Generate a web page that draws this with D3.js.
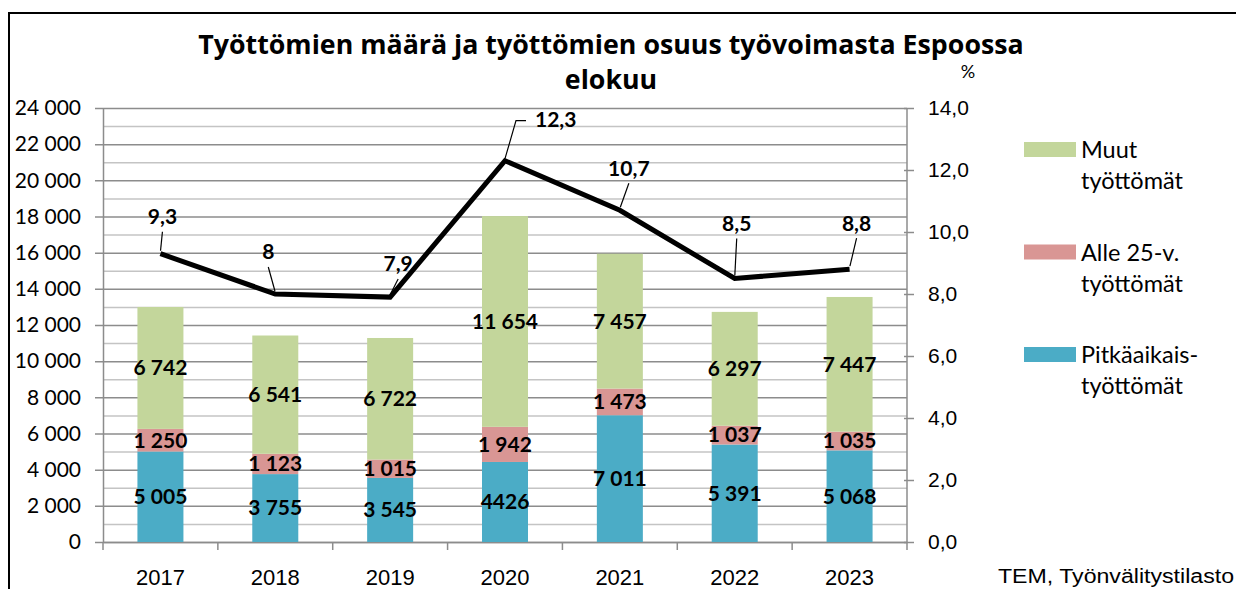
<!DOCTYPE html>
<html><head><meta charset="utf-8">
<script src="https://cdn.jsdelivr.net/npm/d3@7"></script>
<style>
html,body{margin:0;padding:0;background:#fff;}
svg{display:block;font-family:Lato,"Open Sans",sans-serif;}
</style></head>
<body>
<svg id="chart" width="1236" height="589"></svg>
<script>
// ---- data ----
const years = ["2017","2018","2019","2020","2021","2022","2023"];
const pitkaaikais = [5005, 3755, 3545, 4426, 7011, 5391, 5068];
const alle25 = [1250, 1123, 1015, 1942, 1473, 1037, 1035];
const muut = [6742, 6541, 6722, 11654, 7457, 6297, 7447];
const pitkaLabels = ["5 005","3 755","3 545","4426","7 011","5 391","5 068"];
const alleLabels = ["1 250","1 123","1 015","1 942","1 473","1 037","1 035"];
const muutLabels = ["6 742","6 541","6 722","11 654","7 457","6 297","7 447"];
const osuus = [9.3, 8, 7.9, 12.3, 10.7, 8.5, 8.8];
const osuusLabels = ["9,3","8","7,9","12,3","10,7","8,5","8,8"];
const leftTicks = [0,2000,4000,6000,8000,10000,12000,14000,16000,18000,20000,22000,24000];
const rightTicks = [0,2,4,6,8,10,12,14];
const seriesNames = ["Muut\ntyöttömät","Alle 25-v.\ntyöttömät","Pitkäaikais-\ntyöttömät"];
const colors = {pitka:"#4bacc6", alle:"#d99694", muut:"#c3d69b"};

// label layout offsets (dx, dy of text center from point; leader path)
const lineLabelPos = [
  {dx:2, dy:-37}, {dx:-7, dy:-42}, {dx:8, dy:-33}, {dx:51, dy:-41, elbow:true},
  {dx:9, dy:-42}, {dx:2, dy:-55}, {dx:7, dy:-46}
];

const svg = d3.select("#chart");
const L = 103, R = 907, T = 108, B = 542;

const xc = d3.scaleBand().domain(years).range([L, R]);
const y = d3.scaleLinear().domain([0, 24000]).range([B, T]);
const y2 = d3.scaleLinear().domain([0, 14]).range([B, T]);

// frame
svg.append("path").attr("d", `M9,${589} V13 H1236`).attr("fill","none").attr("stroke","#000").attr("stroke-width",2);

// title (fit to reference width)
function fitText(sel, target) {
  const len = sel.node().getComputedTextLength();
  const fs = parseFloat(sel.attr("font-size"));
  sel.attr("font-size", fs * target / len);
  return fs * target / len;
}
const t1 = svg.append("text").attr("x", 611).attr("y", 54).attr("text-anchor","middle")
  .attr("font-size", 25).attr("font-weight","bold").attr("font-family","Open Sans").attr("fill","#000")
  .text("Työttömien määrä ja työttömien osuus työvoimasta Espoossa");
const tfs = fitText(t1, 826);
svg.append("text").attr("x", 611).attr("y", 89).attr("text-anchor","middle")
  .attr("font-size", tfs).attr("font-weight","bold").attr("font-family","Open Sans").attr("fill","#000")
  .text("elokuu");

// gridlines minor
const minor = d3.range(1000, 24001, 2000);
svg.append("g").selectAll("line").data(minor).join("line")
  .attr("x1", L).attr("x2", R).attr("y1", d=>y(d)+0.5).attr("y2", d=>y(d)+0.5)
  .attr("stroke","#c4c4c4").attr("stroke-width",1.5);
svg.append("g").selectAll("line").data(leftTicks).join("line")
  .attr("x1", L-8).attr("x2", R).attr("y1", d=>y(d)+0.5).attr("y2", d=>y(d)+0.5)
  .attr("stroke","#8c8c8c").attr("stroke-width",1.5);

// left axis
const yAxis = d3.axisLeft(y).tickValues(leftTicks).tickSize(0).tickPadding(22)
  .tickFormat(d => d3.format(",")(d).replace(/,/g, " "));
const gy = svg.append("g").attr("transform", `translate(${L},0)`).call(yAxis);
gy.select(".domain").attr("stroke","#8c8c8c").attr("stroke-width",1.5);
gy.selectAll("text").attr("font-size", 21).attr("fill","#000").attr("font-family","Lato");

// right axis
const y2Axis = d3.axisRight(y2).tickValues(rightTicks).tickSize(7).tickPadding(14)
  .tickFormat(d => d3.format(".1f")(d).replace(".", ","));
const gy2 = svg.append("g").attr("transform", `translate(${R},0)`).call(y2Axis);
gy2.select(".domain").attr("stroke","#8c8c8c").attr("stroke-width",1.5).attr("d", `M0,${T}V${B}`);
gy2.selectAll(".tick line").attr("stroke","#8c8c8c").attr("stroke-width",1.5).attr("x1",-3);
gy2.selectAll("text").attr("font-size", 21).attr("fill","#000");
svg.append("text").attr("x", 968).attr("y", 78).attr("text-anchor","middle").attr("font-size",18).text("%");

// bottom axis
const xAxis = d3.axisBottom(xc).tickSize(0).tickPadding(27);
const gx = svg.append("g").attr("transform", `translate(0,${B})`).call(xAxis);
gx.select(".domain").attr("stroke","#8c8c8c").attr("stroke-width",1.5);
gx.selectAll("text").attr("font-size", 22).attr("fill","#000");
const bounds = years.map(d => xc(d)).concat([R]);
svg.append("g").selectAll("line").data(bounds).join("line")
  .attr("x1", d=>d).attr("x2", d=>d).attr("y1", B).attr("y2", B+8)
  .attr("stroke","#8c8c8c").attr("stroke-width",1.5);

// stacked bars
const rows = years.map((yr,i) => ({year: yr, pitka: pitkaaikais[i], alle: alle25[i], muut: muut[i]}));
const stack = d3.stack().keys(["pitka","alle","muut"])(rows);
const labelsByKey = {pitka: pitkaLabels, alle: alleLabels, muut: muutLabels};
const bw = 46;
stack.forEach(layer => {
  svg.append("g").selectAll("rect").data(layer).join("rect")
    .attr("x", d => xc(d.data.year) + xc.bandwidth()/2 - bw/2)
    .attr("width", bw)
    .attr("y", d => y(d[1]))
    .attr("height", d => y(d[0]) - y(d[1]))
    .attr("fill", colors[layer.key]);
});
stack.forEach(layer => {
  svg.append("g").selectAll("text").data(layer).join("text")
    .attr("x", d => xc(d.data.year) + xc.bandwidth()/2)
    .attr("y", d => (y(d[0]) + y(d[1]))/2)
    .attr("dy", "0.35em")
    .attr("text-anchor","middle").attr("font-size", 21).attr("font-weight","bold").attr("fill","#000")
    .text((d,i) => labelsByKey[layer.key][i]);
});

// line
const cx = d => xc(d) + xc.bandwidth()/2;
const line = d3.line().x((d,i) => cx(years[i])).y(d => y2(d));
svg.append("path").datum(osuus).attr("d", line).attr("fill","none")
  .attr("stroke","#000").attr("stroke-width",5).attr("stroke-linejoin","miter");

// line labels + leaders
osuus.forEach((v,i) => {
  const px = cx(years[i]), py = y2(v);
  const o = lineLabelPos[i];
  const tx = px + o.dx, ty = py + o.dy;
  let path;
  if (o.elbow) {
    path = `M${px},${py-2} L${px+11},${ty+1} H${px+21}`;
  } else {
    path = `M${px + (tx-px)*0.05},${py-3} L${tx},${ty+15}`;
  }
  svg.append("path").attr("d", path).attr("fill","none").attr("stroke","#000").attr("stroke-width",1.2);
  svg.append("text").attr("x", o.elbow ? px+30 : tx).attr("y", ty).attr("dy","0.35em")
    .attr("text-anchor", o.elbow ? "start" : "middle")
    .attr("font-size", 21).attr("font-weight","bold").text(osuusLabels[i]);
});

// legend
const legendKeys = ["muut","alle","pitka"];
const lg = svg.append("g");
legendKeys.forEach((k,i) => {
  const top = 142 + i*102.5;
  lg.append("rect").attr("x",1024).attr("y",top).attr("width",52).attr("height",15).attr("fill",colors[k]);
  const lines = seriesNames[i].split("\n");
  lines.forEach((t,j) => {
    lg.append("text").attr("x",1081).attr("y", top + 16 + j*31).attr("font-size",23.5).attr("fill","#000").text(t);
  });
});

// source
svg.append("text").attr("x", 998).attr("y", 583)
  .attr("font-family","Liberation Sans, Arial, sans-serif").attr("font-size",20)
  .attr("textLength", 236).attr("lengthAdjust","spacingAndGlyphs").text("TEM, Työnvälitystilasto");
</script>
</body></html>
